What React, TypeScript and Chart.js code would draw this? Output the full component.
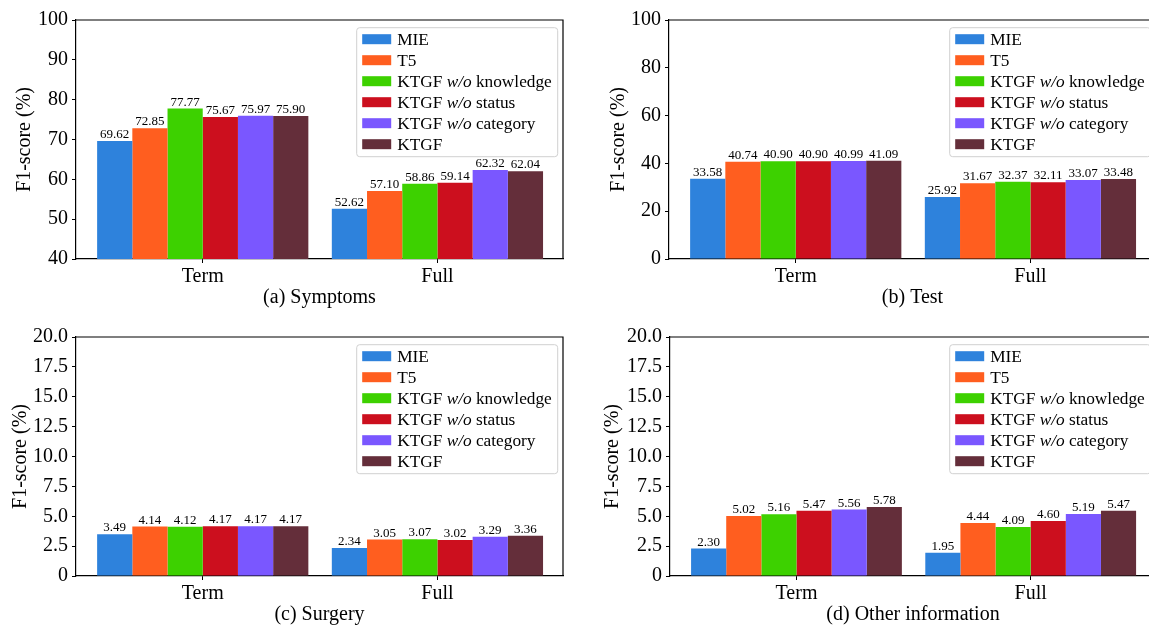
import React, { useEffect, useRef } from "react";
import { Chart, registerables } from "chart.js";

Chart.register(...registerables);

// ---------- data ----------
const categories = ["Term", "Full"];
const methods = [
  "MIE",
  "T5",
  "KTGF w/o knowledge",
  "KTGF w/o status",
  "KTGF w/o category",
  "KTGF",
];
const methodColors = ["#2E82DC", "#FF5E1F", "#3DD100", "#CC0F1E", "#7A57FF", "#642E3A"];

const symptomsTerm = [69.62, 72.85, 77.77, 75.67, 75.97, 75.9];
const symptomsFull = [52.62, 57.1, 58.86, 59.14, 62.32, 62.04];
const testTerm = [33.58, 40.74, 40.9, 40.9, 40.99, 41.09];
const testFull = [25.92, 31.67, 32.37, 32.11, 33.07, 33.48];
const surgeryTerm = [3.49, 4.14, 4.12, 4.17, 4.17, 4.17];
const surgeryFull = [2.34, 3.05, 3.07, 3.02, 3.29, 3.36];
const otherTerm = [2.3, 5.02, 5.16, 5.47, 5.56, 5.78];
const otherFull = [1.95, 4.44, 4.09, 4.6, 5.19, 5.47];

const symptomsTicks = [40, 50, 60, 70, 80, 90, 100];
const symptomsTickLabels = ["40", "50", "60", "70", "80", "90", "100"];
const testTicks = [0, 20, 40, 60, 80, 100];
const testTickLabels = ["0", "20", "40", "60", "80", "100"];
const smallTicks = [0, 2.5, 5, 7.5, 10, 12.5, 15, 17.5, 20];
const smallTickLabels = ["0", "2.5", "5.0", "7.5", "10.0", "12.5", "15.0", "17.5", "20.0"];

const yAxisTitle = "F1-score (%)";
const panelTitles = ["(a) Symptoms", "(b) Test", "(c) Surgery", "(d) Other information"];

// ---------- styles ----------
const FAMILY = "'Liberation Serif', 'Times New Roman', serif";
const X_MIN = -0.54;
const X_MAX = 1.535;

type PanelProps = {
  left: number;
  top: number;
  width: number;
  height: number;
  padTop: number;
  padRight: number;
  yWidth: number;
  xHeight: number;
  yTitlePad: number;
  xTitlePad: number;
  term: number[];
  full: number[];
  yTicks: number[];
  yTickLabels: string[];
  title: string;
};

const framePlugin = {
  id: "frame",
  afterDatasetsDraw(chart: any) {
    const { ctx, chartArea } = chart;
    ctx.save();
    ctx.strokeStyle = "#000";
    ctx.lineWidth = 1.2;
    ctx.beginPath();
    ctx.moveTo(chartArea.left, chartArea.top);
    ctx.lineTo(chartArea.right, chartArea.top);
    ctx.lineTo(chartArea.right, chartArea.bottom);
    ctx.stroke();
    ctx.restore();
  },
};

const valueLabelPlugin = {
  id: "valueLabels",
  afterDatasetsDraw(chart: any) {
    const { ctx } = chart;
    ctx.save();
    ctx.font = `13px ${FAMILY}`;
    ctx.fillStyle = "#000";
    ctx.textAlign = "center";
    ctx.textBaseline = "alphabetic";
    chart.data.datasets.forEach((ds: any, di: number) => {
      const meta = chart.getDatasetMeta(di);
      meta.data.forEach((el: any, i: number) => {
        const v = ds.data[i].y;
        ctx.fillText(v.toFixed(2), el.x, el.y - 3);
      });
    });
    ctx.restore();
  },
};

const legendPlugin = {
  id: "customLegend",
  afterDraw(chart: any) {
    const { ctx, chartArea } = chart;
    const w = 201;
    const h = 129;
    const x0 = chartArea.right - 5.3 - w;
    const y0 = chartArea.top + 7.7;
    ctx.save();
    ctx.fillStyle = "rgba(255,255,255,0.9)";
    ctx.strokeStyle = "#d0d0d0";
    ctx.lineWidth = 1;
    ctx.beginPath();
    (ctx as any).roundRect(x0, y0, w, h, 3);
    ctx.fill();
    ctx.stroke();
    const fs = 17.3;
    chart.data.datasets.forEach((ds: any, i: number) => {
      const cy = y0 + 11.5 + 21 * i;
      ctx.fillStyle = ds.backgroundColor;
      ctx.fillRect(x0 + 5.5, cy - 5, 29, 10);
      let tx = x0 + 40.5;
      const parts = String(ds.label).split(/(w\/o)/).filter((p: string) => p.length > 0);
      ctx.fillStyle = "#000";
      ctx.textAlign = "left";
      ctx.textBaseline = "alphabetic";
      parts.forEach((p: string) => {
        ctx.font = p === "w/o" ? `italic ${fs}px ${FAMILY}` : `${fs}px ${FAMILY}`;
        ctx.fillText(p, tx, cy + fs * 0.33);
        tx += ctx.measureText(p).width;
      });
    });
    ctx.restore();
  },
};

function BarPanel(p: PanelProps) {
  const ref = useRef<HTMLCanvasElement | null>(null);
  useEffect(() => {
    if (!ref.current) return;
    const font = { family: FAMILY, size: 20 };
    const chart = new Chart(ref.current, {
      type: "bar",
      data: {
        datasets: methods.map((m, i) => ({
          label: m,
          data: [
            { x: 0, y: p.term[i] },
            { x: 1, y: p.full[i] },
          ],
          backgroundColor: methodColors[i],
          borderWidth: 0,
          categoryPercentage: 0.9,
          barPercentage: 1.0,
        })),
      } as any,
      options: {
        responsive: false,
        animation: false,
        devicePixelRatio: 1,
        layout: { padding: { top: p.padTop, right: p.padRight, left: 0, bottom: 0 } },
        plugins: {
          legend: { display: false },
          tooltip: { enabled: false },
          title: { display: false },
        },
        scales: {
          x: {
            type: "linear",
            min: X_MIN,
            max: X_MAX,
            offset: false,
            grid: {
              drawOnChartArea: false,
              drawTicks: true,
              tickLength: 4,
              tickColor: "#000",
              offset: false,
            },
            border: { display: true, color: "#000", width: 1.2 },
            ticks: {
              font,
              color: "#000",
              padding: 2,
              maxRotation: 0,
              autoSkip: false,
              callback: (_v: any, i: number) => categories[i],
            },
            afterBuildTicks: (s: any) => {
              s.ticks = categories.map((_c, i) => ({ value: i }));
            },
            afterFit: (s: any) => {
              s.height = p.xHeight;
            },
            title: {
              display: true,
              text: p.title,
              font,
              color: "#000",
              padding: { top: 0, bottom: p.xTitlePad },
            },
          },
          y: {
            type: "linear",
            min: p.yTicks[0],
            max: p.yTicks[p.yTicks.length - 1],
            grid: {
              drawOnChartArea: false,
              drawTicks: true,
              tickLength: 4,
              tickColor: "#000",
            },
            border: { display: true, color: "#000", width: 1.2 },
            ticks: {
              font,
              color: "#000",
              padding: 4,
              autoSkip: false,
              callback: (_v: any, i: number) => p.yTickLabels[i],
            },
            afterBuildTicks: (s: any) => {
              s.ticks = p.yTicks.map((v) => ({ value: v }));
            },
            afterFit: (s: any) => {
              s.width = p.yWidth;
            },
            title: {
              display: true,
              text: yAxisTitle,
              font,
              color: "#000",
              padding: { top: p.yTitlePad, bottom: 0 },
            },
          },
        },
      } as any,
      plugins: [framePlugin, valueLabelPlugin, legendPlugin],
    });
    return () => chart.destroy();
  }, []);
  return (
    <canvas
      ref={ref}
      width={p.width}
      height={p.height}
      style={{
        position: "absolute",
        left: p.left,
        top: p.top,
        width: p.width,
        height: p.height,
      }}
    />
  );
}

export default function App() {
  return (
    <div
      style={{
        position: "absolute",
        left: 0,
        top: 0,
        width: 1149,
        height: 628,
        overflow: "hidden",
        background: "#fff",
      }}
    >
      <BarPanel
        left={0} top={0} width={574} height={314}
        padTop={20} padRight={11} yWidth={76} xHeight={55}
        yTitlePad={13} xTitlePad={4}
        term={symptomsTerm} full={symptomsFull}
        yTicks={symptomsTicks} yTickLabels={symptomsTickLabels}
        title={panelTitles[0]}
      />
      <BarPanel
        left={574} top={0} width={591} height={314}
        padTop={20} padRight={9} yWidth={95} xHeight={55}
        yTitlePad={33} xTitlePad={4}
        term={testTerm} full={testFull}
        yTicks={testTicks} yTickLabels={testTickLabels}
        title={panelTitles[1]}
      />
      <BarPanel
        left={0} top={314} width={574} height={314}
        padTop={23} padRight={11} yWidth={76} xHeight={52}
        yTitlePad={8.5} xTitlePad={1}
        term={surgeryTerm} full={surgeryFull}
        yTicks={smallTicks} yTickLabels={smallTickLabels}
        title={panelTitles[2]}
      />
      <BarPanel
        left={574} top={314} width={591} height={314}
        padTop={23} padRight={9} yWidth={96} xHeight={52}
        yTitlePad={27} xTitlePad={1}
        term={otherTerm} full={otherFull}
        yTicks={smallTicks} yTickLabels={smallTickLabels}
        title={panelTitles[3]}
      />
    </div>
  );
}
